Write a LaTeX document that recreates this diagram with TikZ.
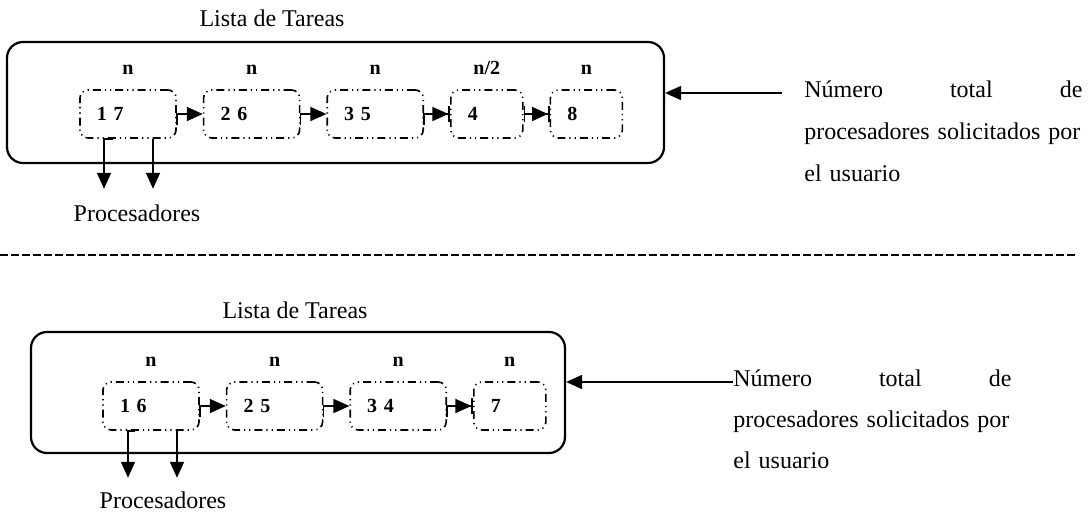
\documentclass[tikz,border=0pt]{standalone}
\usepackage{fontspec}
\setmainfont{Liberation Serif}
\usepackage{tikz}
\usetikzlibrary{arrows.meta,positioning}

\begin{document}
\begin{tikzpicture}[
    x=0.5pt, y=-0.5pt,
    node distance=13pt,
    font=\fontsize{12}{14}\selectfont,
    lista/.style={draw, line width=1.1pt, rounded corners=8pt, minimum width=#1, minimum height=60.5pt},
    tarea/.style={draw, line width=0.8pt, dash pattern=on 4pt off 2pt on 0.6pt off 2pt on 0.6pt off 2pt,
        rounded corners=4pt, minimum height=24pt, text width=#1, align=left, inner xsep=8.5pt, font=\bfseries},
    cuenta/.style={font=\bfseries, text height=8pt, text depth=2pt},
    paso/.style={-{Triangle[length=8pt,width=7pt]}, line width=0.8pt},
    pasobarra/.style={-{Triangle[length=8pt,width=7pt]Bar[width=8pt]}, line width=0.8pt},
    baja/.style={-{Triangle[length=8pt,width=7pt]}, line width=0.8pt},
    entra/.style={-{Triangle[length=8pt,width=7pt]}, line width=0.9pt},
    nota/.style={anchor=north west, inner sep=0pt, text width=139pt, align=left,
        font=\fontsize{12}{#1}\selectfont}
]
\useasboundingbox (0,0) rectangle (1089,514);

% primera lista
\node (tituloA) at (272,18) {Lista de Tareas};
\node[lista=328.5pt] (listaA) at (335.5,102.5) {};
\node[tarea=31pt] (t1) at (128,114) {1 7};
\node[tarea=31pt, right=of t1] (t2) {2 6};
\node[tarea=31pt, right=of t2] (t3) {3 5};
\node[tarea=19pt, right=of t3] (t4) {4};
\node[tarea=19pt, right=of t4] (t5) {8};
\node[cuenta, above=2pt of t1] (nA1) {n};
\node[cuenta, above=2pt of t2] (nA2) {n};
\node[cuenta, above=2pt of t3] (nA3) {n};
\node[cuenta, above=2pt of t4] (nA4) {n/2};
\node[cuenta, above=2pt of t5] (nA5) {n};

\draw[paso] ([yshift=-5.5pt]t1.east) |- (t2.west);
\draw[paso] ([yshift=-5.5pt]t2.east) |- (t3.west);
\draw[pasobarra] ([yshift=-5.5pt]t3.east) |- (t4.west);
\draw[{Bar[width=8pt]}-{Triangle[length=8pt,width=7pt]Bar[width=8pt]}, line width=0.8pt] (t4.east) -- (t5.west);

\coordinate (pA1) at ([xshift=-12pt,yshift=-25pt]t1.south);
\coordinate (pA2) at ([xshift=12.5pt,yshift=-25pt]t1.south);
\draw[baja] ([xshift=-7.5pt]t1.south) -| (pA1);
\draw[baja] (pA2 |- t1.south) -- (pA2);
\node (procA) at (137,213) {Procesadores};

\coordinate (cA) at (782,93);
\draw[entra] (cA) -- (cA -| listaA.east);
\node[nota=21.2pt] (numA) at (804,80) {N\'umero\hfill total\hfill de\\ procesadores solicitados por\\ el usuario};

% separador
\draw[line width=1pt, dash pattern=on 4pt off 1.5pt] (0,255) -- (1077,255);

% segunda lista
\node (tituloB) at (295,310) {Lista de Tareas};
\node[lista=267pt] (listaB) at (298,392.5) {};
\node[tarea=31pt] (b1) at (151,406) {1 6};
\node[tarea=31pt, right=of b1] (b2) {2 5};
\node[tarea=31pt, right=of b2] (b3) {3 4};
\node[tarea=19pt, right=of b3] (b4) {7};
\node[cuenta, above=2pt of b1] (nB1) {n};
\node[cuenta, above=2pt of b2] (nB2) {n};
\node[cuenta, above=2pt of b3] (nB3) {n};
\node[cuenta, above=2pt of b4] (nB4) {n};

\draw[paso] ([yshift=-5.5pt]b1.east) |- (b2.west);
\draw[paso] ([yshift=-5.5pt]b2.east) |- (b3.west);
\draw[pasobarra] ([yshift=-5.5pt]b3.east) |- (b4.west);

\coordinate (pB1) at ([xshift=-11.5pt,yshift=-23.5pt]b1.south);
\coordinate (pB2) at ([xshift=13pt,yshift=-23.5pt]b1.south);
\draw[baja] ([xshift=-8pt]b1.south) -| (pB1);
\draw[baja] (pB2 |- b1.south) -- (pB2);
\node (procB) at (163,500) {Procesadores};

\coordinate (cB) at (733,382);
\draw[entra] (cB) -- (cB -| listaB.east);
\node[nota=20.5pt] (numB) at (733,369) {N\'umero\hfill total\hfill de\\ procesadores solicitados por\\ el usuario};
\end{tikzpicture}
\end{document}
